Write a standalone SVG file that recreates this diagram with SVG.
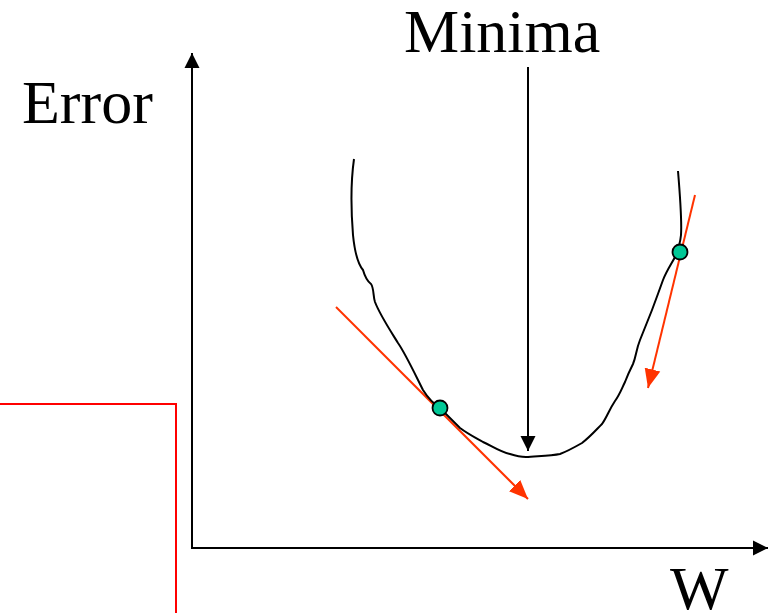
<svg xmlns="http://www.w3.org/2000/svg" width="769" height="613" viewBox="0 0 769 613">
<style>
.lbl{font-family:"Liberation Serif","Times New Roman",serif;font-size:62px;fill:#000}
.ax{stroke:#000;stroke-width:2;fill:none}
.red{stroke:#FF3300;stroke-width:2;fill:none}
.dot{fill:#00C896;stroke:#000;stroke-width:1.8}
</style>
<defs>
<marker id="ab" markerUnits="userSpaceOnUse" markerWidth="16" markerHeight="16" viewBox="0 0 16 16" refX="15" refY="8" orient="auto"><path d="M0,0.5 L15,8 L0,15.5 Z" fill="#000"/></marker>
<marker id="ar" markerUnits="userSpaceOnUse" markerWidth="20" markerHeight="18" viewBox="0 0 20 18" refX="19" refY="9" orient="auto"><path d="M0,1 L19,9 L0,17 Z" fill="#FF3300"/></marker>
</defs>
<g id="frame">
<path d="M0,404 H176 V613" stroke="#FF0000" stroke-width="2" fill="none"/>
</g>
<g id="connectors">
<line class="ax" x1="192" y1="548" x2="192" y2="53" marker-end="url(#ab)"/>
<line class="ax" x1="191" y1="548" x2="768" y2="548" marker-end="url(#ab)"/>
<line class="ax" x1="528" y1="67" x2="528" y2="451" marker-end="url(#ab)"/>
<line class="red" x1="336" y1="307" x2="528" y2="499" marker-end="url(#ar)"/>
<line class="red" x1="695" y1="195" x2="648" y2="388" marker-end="url(#ar)"/>
</g>
<g id="curve">
<path class="ax" d="M354,159 C351,180 351,210 353,235 C355,255 358,264 363,270 C365,277 367,281 371,284 C374,288 373,296 375,302 C380,315 390,330 398,343 C405,353 413,370 423,390 C428,398 434,404 440,408 C446,414 452,420 460,428 C468,434 476,438 483,442 C492,446 500,452 510,454 C516,456 520,457 526,457 C536,456 550,456 560,454 C568,451 575,447 582,443 C590,437 596,430 602,424 C607,417 609,410 615,401 C620,394 622,388 625,382 C628,374 630,370 633,364 C636,357 636,350 640,340 C644,330 648,320 652,310 C655,302 658,294 663,280 C667,270 672,263 675,257 C678,250 680,245 681,235 C682,220 680,195 678,171"/>
</g>
<g id="dots">
<circle class="dot" cx="440" cy="408" r="7.5"/>
<circle class="dot" cx="680" cy="252" r="7.5"/>
</g>
<g id="labels">
<text class="lbl" x="404" y="52">Minima</text>
<text class="lbl" x="22" y="123">Error</text>
<text class="lbl" x="670" y="609">W</text>
</g>
</svg>
